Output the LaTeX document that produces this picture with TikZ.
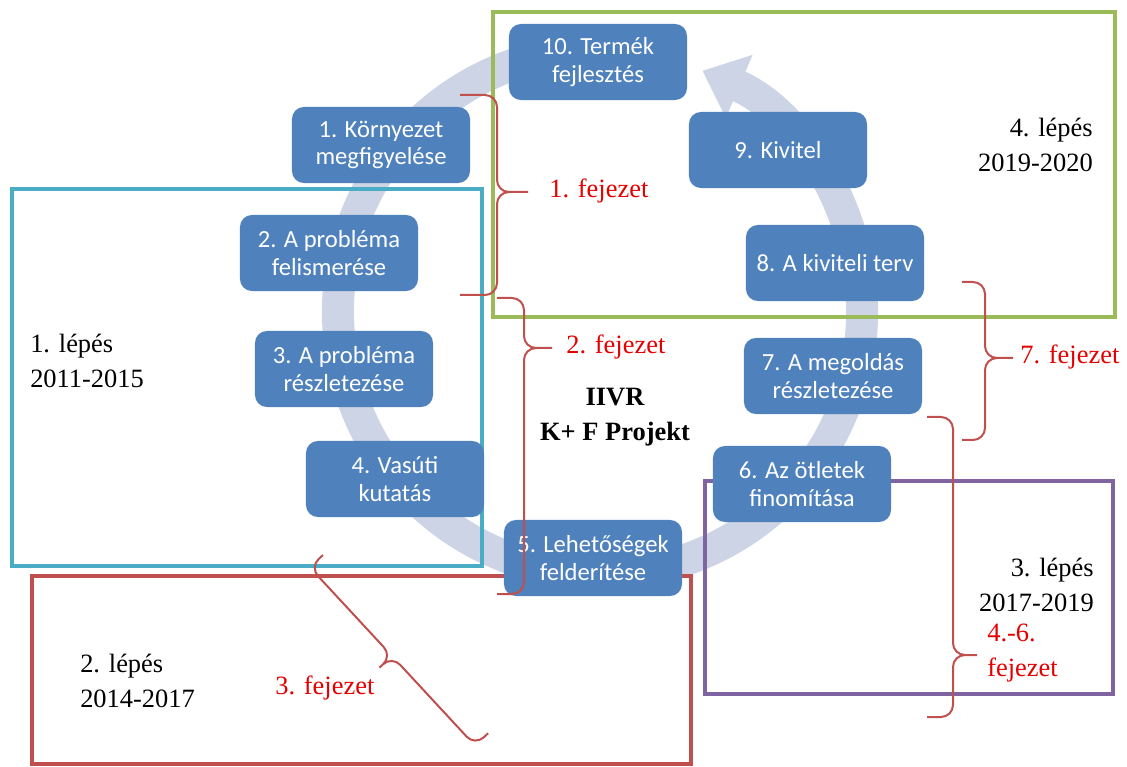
\documentclass[tikz,border=0pt]{standalone}
\usepackage{fontspec}
\setmainfont{Liberation Serif}
\newfontfamily\boxfont{Carlito}
\usepackage{xcolor}
\usepackage{tikz}
\usetikzlibrary{arrows.meta}
\definecolor{lepesblue}{HTML}{4F81BD}
\definecolor{ringgray}{HTML}{CDD4E5}
\definecolor{lepesgreen}{HTML}{9BBB59}
\definecolor{lepescyan}{HTML}{4BACC6}
\definecolor{lepesred}{HTML}{C0504D}
\definecolor{lepespurple}{HTML}{8064A2}
\definecolor{fejred}{RGB}{228,0,0}

\begin{document}
\begin{tikzpicture}[x=0.025cm, y=0.025cm,%
  stepbox/.style={fill=lepesblue, rounded corners=0.3cm, text=white, align=center, minimum width=4.45cm, minimum height=1.9cm, inner sep=0pt, font=\boxfont\fontsize{17.5}{19.5}\selectfont},%
  frame/.style={line width=0.1cm},%
  lepestext/.style={inner sep=0pt, font=\fontsize{18.8}{25}\selectfont},%
  fejtext/.style={inner sep=0pt, text=fejred, align=left, font=\fontsize{18.8}{25}\selectfont},%
  fejbrace/.style={draw=lepesred, line width=0.05cm, rounded corners=0.3cm}]%
\useasboundingbox (0,0) rectangle (1127,-767);%
% ring
\coordinate (kozep) at (600,-312);%
\draw[ringgray, line width=0.8cm, -{Triangle[length=1cm, width=1.65cm]}] ([shift={(95:6.55cm)}]kozep) arc[start angle=95, end angle=427, radius=6.55cm];%
% frames
\draw[frame, lepescyan] (12,-189) rectangle (482,-566);%
\draw[frame, lepesred] (32,-576) rectangle (691,-764);%
\draw[frame, lepespurple] (705,-481) rectangle (1113,-694);%
\draw[frame, lepesgreen] (493,-12) rectangle (1115,-317);%
% steps
\node[stepbox] (termek) at (598,-62) {10. Termék\\fejlesztés};%
\node[stepbox] (kornyezet) at (381,-145) {1. Környezet\\megfigyelése};%
\node[stepbox] (felismeres) at (329,-253) {2. A probléma\\felismerése};%
\node[stepbox] (reszletezes) at (344,-369) {3. A probléma\\részletezése};%
\node[stepbox] (kutatas) at (395,-479) {4. Vasúti\\kutatás};%
\node[stepbox] (lehetoseg) at (593,-558) {5. Lehetőségek\\felderítése};%
\node[stepbox] (finomitas) at (802,-484) {6. Az ötletek\\finomítása};%
\node[stepbox] (megoldas) at (833,-376) {7. A megoldás\\részletezése};%
\node[stepbox] (terv) at (835,-263) {8. A kiviteli terv};%
\node[stepbox] (kivitel) at (778,-150) {9. Kivitel};%
% braces
\draw[fejbrace] (460,-95) -| (497,-192) -- (528,-192) (460,-295) -| (497,-192) -- (528,-192);%
\draw[fejbrace] (497,-298) -| (524,-348) -- (552,-348) (497,-594) -| (524,-348) -- (552,-348);%
\draw[fejbrace] (962,-282) -| (985,-358) -- (1013,-358) (962,-440) -| (985,-358) -- (1013,-358);%
\draw[fejbrace] (927,-417) -| (953,-655) -- (977,-655) (927,-717) -| (953,-655) -- (977,-655);%
\begin{scope}[shift={(323,-555)}, rotate=-47.2]%
\draw[fejbrace] (0,0) |- (121,-18) -- (121,-35) (243,0) |- (121,-18) -- (121,-35);%
\end{scope}%
% texts
\node[lepestext, anchor=west, align=left] (lepes1) at (30,-361) {1. lépés\\2011-2015};%
\node[lepestext, anchor=west, align=left] (lepes2) at (80,-681) {2. lépés\\2014-2017};%
\node[lepestext, anchor=east, align=right] (lepes3) at (1094,-585) {3. lépés\\2017-2019};%
\node[lepestext, anchor=east, align=right] (lepes4) at (1093,-145) {4. lépés\\2019-2020};%
\node[lepestext, align=center, font=\fontsize{18.8}{25}\selectfont\bfseries] (projekt) at (615,-417) {IIVR\\K+ F Projekt};%
\node[fejtext, anchor=west] (fej1) at (549,-191) {1. fejezet};%
\node[fejtext, anchor=west] (fej2) at (566,-347) {2. fejezet};%
\node[fejtext, anchor=west] (fej3) at (275,-688) {3. fejezet};%
\node[fejtext, anchor=west] (fej7) at (1020,-357) {7. fejezet};%
\node[fejtext, anchor=west] (fej46) at (987,-653) {4.-6.\\fejezet};%
\end{tikzpicture}
\end{document}
